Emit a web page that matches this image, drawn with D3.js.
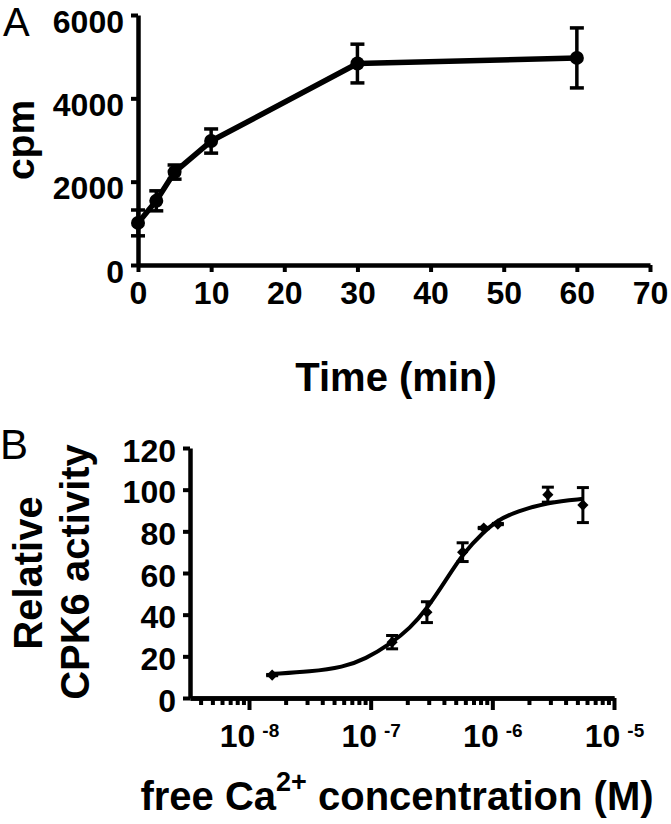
<!DOCTYPE html>
<html>
<head>
<meta charset="utf-8">
<script src="https://cdn.jsdelivr.net/npm/d3@7"></script>
<style>
    body { margin: 0; background: #fff; }
    svg { display: block; font-family: "Liberation Sans", Arial, sans-serif; }
</style>
</head>
<body>
<div id="chart"></div>
<script>
//panel A: time course
const timeMin = [0, 2.5, 5, 10, 30, 60];
const cpmMean = [1010, 1540, 2230, 2975, 4835, 4970];
const cpmErr = [310, 240, 170, 290, 465, 720];
const timeTicks = [0, 10, 20, 30, 40, 50, 60, 70];
const cpmTicks = [0, 2000, 4000, 6000];

//panel B: calcium dependence
const caConc = [1.55e-8, 1.5e-7, 2.9e-7, 5.7e-7, 8.5e-7, 1.11e-6, 2.86e-6, 5.55e-6];
const activity = [11, 26.8, 41.2, 70, 81.6, 83.5, 97.6, 92.6];
const activityErr = [0.3, 3.2, 5, 4.5, 0.3, 0.3, 3.6, 8.4];
//fitted curve
const fitConc = [1.6e-8, 3.17e-8, 5.96e-8, 9.0e-8, 1.48e-7, 2.1e-7, 2.88e-7, 4.2e-7, 5.77e-7, 8.4e-7, 1.12e-6, 1.58e-6, 2.88e-6, 5.58e-6];
const fitActivity = [11.6, 12.6, 14.8, 18.6, 26.3, 33.5, 42.5, 57, 69.5, 79.5, 85.5, 89.5, 94, 95.6];
const activityTicks = [0, 20, 40, 60, 80, 100, 120];
const concTicks = [1e-8, 1e-7, 1e-6, 1e-5];
const concExponents = ["-8", "-7", "-6", "-5"];

const width = 671;
const height = 824;

const svg = d3.select("#chart")
    .append("svg")
    .attr("width", width)
    .attr("height", height);

//scales, panel A
const xA = d3.scaleLinear().domain([0, 70]).range([138, 650]);
const yA = d3.scaleLinear().domain([0, 6000]).range([265, 15]);

//scales, panel B
const xB = d3.scaleLog().domain([Math.pow(10, -8.485), 1e-5]).range([190, 614]);
const yB = d3.scaleLinear().domain([0, 120]).range([698, 448]);

function styleAxis(g) {
    g.select(".domain").attr("stroke-width", 4.5).attr("stroke", "#000");
    g.selectAll(".tick line").attr("stroke-width", 4).attr("stroke", "#000");
    g.selectAll(".tick text")
        .attr("font-size", 32)
        .attr("font-weight", "bold")
        .attr("font-family", "'Liberation Sans', Arial, sans-serif")
        .attr("fill", "#000");
}

//---------- panel A ----------
svg.append("g")
    .attr("transform", "translate(0," + yA(0) + ")")
    .call(d3.axisBottom(xA).tickValues(timeTicks).tickFormat(d3.format("d"))
        .tickSize(7).tickSizeOuter(0).tickPadding(9))
    .call(styleAxis);

svg.append("g")
    .attr("transform", "translate(" + xA(0) + ",0)")
    .call(d3.axisLeft(yA).tickValues(cpmTicks).tickFormat(d3.format("d"))
        .tickSize(7).tickSizeOuter(0).tickPadding(7))
    .call(styleAxis)
    .selectAll(".tick text")
    .attr("y", 7);

const aPoints = timeMin.map(function (t, i) {
    return { t: t, v: cpmMean[i], e: cpmErr[i] };
});

svg.append("path")
    .datum(aPoints)
    .attr("fill", "none")
    .attr("stroke", "#000")
    .attr("stroke-width", 5.5)
    .attr("stroke-linejoin", "round")
    .attr("d", d3.line()
        .x(function (d) { return xA(d.t); })
        .y(function (d) { return yA(d.v); }));

//error bars
const errA = svg.append("g").attr("stroke", "#000");
aPoints.forEach(function (d) {
    const cx = xA(d.t);
    errA.append("line")
        .attr("x1", cx).attr("x2", cx)
        .attr("y1", yA(d.v - d.e)).attr("y2", yA(d.v + d.e))
        .attr("stroke-width", 3.5);
    [d.v - d.e, d.v + d.e].forEach(function (v) {
        errA.append("line")
            .attr("x1", cx - 7).attr("x2", cx + 7)
            .attr("y1", yA(v)).attr("y2", yA(v))
            .attr("stroke-width", 3.5);
    });
});

svg.selectAll("circle.a")
    .data(aPoints)
    .enter()
    .append("circle")
    .attr("class", "a")
    .attr("cx", function (d) { return xA(d.t); })
    .attr("cy", function (d) { return yA(d.v); })
    .attr("r", 7)
    .attr("fill", "#000");

svg.append("text")
    .attr("x", 396)
    .attr("y", 391)
    .attr("text-anchor", "middle")
    .attr("font-size", 40)
    .attr("font-weight", "bold")
    .text("Time (min)");

svg.append("text")
    .attr("transform", "translate(34,140) rotate(-90)")
    .attr("text-anchor", "middle")
    .attr("font-size", 39)
    .attr("font-weight", "bold")
    .text("cpm");

svg.append("text")
    .attr("x", 3)
    .attr("y", 36)
    .attr("font-size", 40)
    .text("A");

//---------- panel B ----------
//minor ticks: every 2..9 step of each decade
const minorTicks = xB.ticks().filter(function (v) {
    return Math.abs(Math.log10(v) - Math.round(Math.log10(v))) > 1e-6;
});

svg.append("g")
    .attr("transform", "translate(0," + yB(0) + ")")
    .call(d3.axisBottom(xB).tickValues(minorTicks).tickSize(7).tickSizeOuter(0).tickFormat(""))
    .call(styleAxis);

const xAxisB = svg.append("g")
    .attr("transform", "translate(0," + yB(0) + ")")
    .call(d3.axisBottom(xB).tickValues(concTicks).tickSize(12).tickSizeOuter(0).tickPadding(14))
    .call(styleAxis);

//power-of-ten labels with superscript
xAxisB.selectAll(".tick text").each(function (d, i) {
    const t = d3.select(this);
    t.text(null);
    t.append("tspan").text("10");
    t.append("tspan")
        .attr("dx", 7)
        .attr("dy", -10)
        .attr("font-size", 19)
        .text(concExponents[i]);
});

svg.append("g")
    .attr("transform", "translate(" + xB.range()[0] + ",0)")
    .call(d3.axisLeft(yB).tickValues(activityTicks).tickSize(7).tickSizeOuter(0).tickPadding(7))
    .call(styleAxis)
    .selectAll(".tick text")
    .attr("y", 3);

//fitted curve
const fitPoints = fitConc.map(function (c, i) { return { c: c, v: fitActivity[i] }; });
svg.append("path")
    .datum(fitPoints)
    .attr("fill", "none")
    .attr("stroke", "#000")
    .attr("stroke-width", 4)
    .attr("d", d3.line()
        .curve(d3.curveBasis)
        .x(function (d) { return xB(d.c); })
        .y(function (d) { return yB(d.v); }));

const bPoints = caConc.map(function (c, i) {
    return { c: c, v: activity[i], e: activityErr[i] };
});

const errB = svg.append("g").attr("stroke", "#000");
bPoints.forEach(function (d) {
    const cx = xB(d.c);
    errB.append("line")
        .attr("x1", cx).attr("x2", cx)
        .attr("y1", yB(d.v - d.e)).attr("y2", yB(d.v + d.e))
        .attr("stroke-width", 3);
    [d.v - d.e, d.v + d.e].forEach(function (v) {
        errB.append("line")
            .attr("x1", cx - 6).attr("x2", cx + 6)
            .attr("y1", yB(v)).attr("y2", yB(v))
            .attr("stroke-width", 3);
    });
});

svg.selectAll("path.diamond")
    .data(bPoints)
    .enter()
    .append("path")
    .attr("class", "diamond")
    .attr("transform", function (d) { return "translate(" + xB(d.c) + "," + yB(d.v) + ")"; })
    .attr("d", d3.symbol().type(d3.symbolDiamond2).size(80))
    .attr("fill", "#000");

const xLab = svg.append("text")
    .attr("x", 397)
    .attr("y", 810)
    .attr("text-anchor", "middle")
    .attr("font-size", 40)
    .attr("font-weight", "bold");
xLab.append("tspan").text("free Ca");
xLab.append("tspan").attr("dy", -19).attr("font-size", 27).text("2+");
xLab.append("tspan").attr("dy", 19).text(" concentration (M)");

svg.append("text")
    .attr("transform", "translate(42,573) rotate(-90)")
    .attr("text-anchor", "middle")
    .attr("font-size", 40)
    .attr("font-weight", "bold")
    .text("Relative");

svg.append("text")
    .attr("transform", "translate(89,572) rotate(-90)")
    .attr("text-anchor", "middle")
    .attr("font-size", 40)
    .attr("font-weight", "bold")
    .text("CPK6 activity");

svg.append("text")
    .attr("x", 0)
    .attr("y", 459)
    .attr("font-size", 42)
    .text("B");
</script>
</body>
</html>
